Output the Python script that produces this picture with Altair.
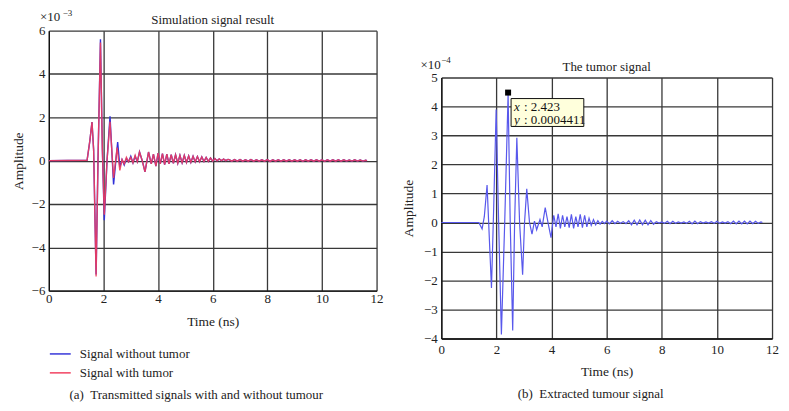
import altair as alt
import pandas as pd

FONT = "Liberation Serif"

# ---------------- Left panel: amplitudes in units of 1e-3 ----------------
series_names = ["Signal without tumor", "Signal with tumor"]

t_without = [0.00, 1.40, 1.50, 1.58, 1.64, 1.73, 1.80, 1.89, 1.96, 2.03, 2.13, 2.24, 2.37, 2.52, 2.60,
             2.68, 2.76, 2.84, 2.92, 3.00, 3.08, 3.16, 3.24, 3.32, 3.42, 3.52, 3.65, 3.75, 3.83, 3.92]
a_without = [0.00, 0.02, 0.90, 1.78, 0.50, -5.25, 0.00, 5.60, 0.50, -2.75, 0.00, 2.05, -1.10, 0.86, -0.30,
             0.05, -0.20, 0.10, -0.05, 0.20, -0.10, 0.20, -0.05, 0.40, 0.00, -0.52, 0.40, -0.15, 0.30, -0.25]

t_with = [0.00, 1.40, 1.50, 1.58, 1.64, 1.73, 1.80, 1.89, 1.96, 2.03, 2.13, 2.24, 2.37, 2.50, 2.60,
          2.68, 2.76, 2.84, 2.92, 3.00, 3.08, 3.16, 3.24, 3.32, 3.42, 3.52, 3.65, 3.75, 3.83, 3.92]
a_with = [0.00, 0.02, 0.90, 1.78, 0.50, -5.35, 0.00, 5.45, 0.50, -2.50, 0.00, 1.80, -0.80, 0.60, -0.45,
          0.05, -0.15, 0.15, -0.05, 0.15, -0.10, 0.25, -0.05, 0.40, 0.00, -0.52, 0.40, -0.15, 0.30, -0.25]

# common ringing tail of both transmitted signals
t_tail_left = [4.00, 4.08, 4.16, 4.24, 4.32, 4.40, 4.48, 4.56, 4.64, 4.72, 4.80, 4.88, 4.96, 5.04, 5.12,
               5.20, 5.28, 5.36, 5.44, 5.52, 5.60, 5.68, 5.76, 5.84, 5.92, 6.00, 6.08, 6.16, 6.24, 6.32,
               6.40, 6.48, 6.56,
               6.6, 6.7, 6.8, 6.9, 7.0, 7.1, 7.2, 7.3, 7.4, 7.5, 7.6, 7.7, 7.8, 7.9, 8.0, 8.1, 8.2, 8.3,
               8.4, 8.5, 8.6, 8.7, 8.8, 8.9, 9.0, 9.1, 9.2, 9.3, 9.4, 9.5, 9.6, 9.7, 9.8, 9.9, 10.0, 10.1,
               10.2, 10.3, 10.4, 10.5, 10.6, 10.7, 10.8, 10.9, 11.0, 11.1, 11.2, 11.3, 11.4, 11.5, 11.6, 11.65]
a_tail_left = [0.35, -0.15, 0.33, -0.18, 0.30, -0.15, 0.28, -0.12, 0.27, -0.12, 0.25, -0.10, 0.24, -0.08, 0.22,
               -0.08, 0.20, -0.06, 0.19, -0.05, 0.17, -0.04, 0.15, -0.03, 0.12, -0.02, 0.10, -0.01, 0.08, 0.00,
               0.07, 0.00, 0.06,
               0.05, -0.02, 0.05, -0.02, 0.05, -0.02, 0.04, -0.02, 0.05, -0.02, 0.04, -0.02, 0.04, -0.02,
               0.05, -0.03, 0.04, -0.02, 0.04, -0.02, 0.04, -0.02, 0.04, -0.02, 0.04, -0.02, 0.04, -0.03,
               0.04, -0.02, 0.04, -0.02, 0.04, -0.02, 0.04, -0.03, 0.04, -0.02, 0.04, -0.02, 0.04, -0.02,
               0.04, -0.02, 0.03, -0.02, 0.04, -0.02, 0.03, -0.02, 0.02, 0.00]

left_x_ticks = [0, 2, 4, 6, 8, 10, 12]
left_y_ticks = [-6, -4, -2, 0, 2, 4, 6]

# ---------------- Right panel: amplitudes in units of 1e-4 ----------------
t_tumor = [0.00, 1.36, 1.48, 1.56, 1.66, 1.74, 1.82, 1.90, 1.99, 2.08, 2.18, 2.30, 2.423, 2.50, 2.59,
           2.66, 2.74, 2.84, 2.95, 3.02, 3.10, 3.20, 3.29, 3.38, 3.46, 3.58, 3.66, 3.77, 3.88, 3.98,
           4.08, 4.16, 4.24, 4.32, 4.40, 4.48, 4.56, 4.64, 4.72, 4.80, 4.88, 4.96, 5.04, 5.12, 5.20,
           5.28, 5.36, 5.44, 5.52, 5.60, 5.68, 5.76, 5.84, 5.92,
           6.0, 6.1, 6.2, 6.3, 6.4, 6.5, 6.6, 6.7, 6.8, 6.9, 7.0, 7.1, 7.2, 7.3, 7.4, 7.5, 7.6, 7.7,
           7.8, 7.9, 8.0, 8.1, 8.2, 8.3, 8.4, 8.5, 8.6, 8.7, 8.8, 8.9, 9.0, 9.1, 9.2, 9.3, 9.4, 9.5,
           9.6, 9.7, 9.8, 9.9, 10.0, 10.1, 10.2, 10.3, 10.4, 10.5, 10.6, 10.7, 10.8, 10.9, 11.0, 11.1,
           11.2, 11.3, 11.4, 11.5, 11.6, 11.65]
a_tumor = [0.00, 0.00, -0.22, 0.20, 1.29, -0.50, -2.26, 0.50, 3.90, 0.00, -3.86, 0.00, 4.411, 0.00, -3.72,
           0.00, 2.92, 0.00, -1.80, 0.00, 1.16, 0.00, -0.40, 0.05, -0.25, 0.10, -0.15, 0.51, -0.05, -0.52,
           0.25, -0.15, 0.30, -0.20, 0.25, -0.15, 0.20, -0.18, 0.28, -0.20, 0.20, -0.15, 0.28, -0.18, 0.25,
           -0.15, 0.15, -0.10, 0.10, -0.08, 0.06, -0.06, 0.04, -0.04,
           0.05, -0.05, 0.06, -0.04, 0.04, -0.03, 0.03, -0.04, 0.06, -0.08, 0.08, -0.08, 0.09, -0.08,
           0.08, -0.08, 0.07, -0.06, 0.03, -0.02, 0.02, -0.03, 0.04, -0.04, 0.04, -0.03, 0.02, -0.02,
           0.02, -0.03, 0.04, -0.05, 0.05, -0.04, 0.03, -0.02, 0.02, -0.02, 0.03, -0.03, 0.04, -0.03,
           0.02, -0.02, 0.03, -0.04, 0.05, -0.05, 0.05, -0.05, 0.05, -0.05, 0.05, -0.04, 0.04, -0.03,
           0.02, 0.00]

right_x_ticks = [0, 2, 4, 6, 8, 10, 12]
right_y_ticks = [-4, -3, -2, -1, 0, 1, 2, 3, 4, 5]

tip_x = [2.423]
tip_y = [4.411]
tip_lines = ["2.423", "0.0004411"]

# ---------------- build tables ----------------
rows = []
for t, a in zip(t_without + t_tail_left, a_without + a_tail_left):
    rows.append({"t": t, "a": a, "s": series_names[0]})
for t, a in zip(t_with + t_tail_left, a_with + a_tail_left):
    rows.append({"t": t, "a": a, "s": series_names[1]})
left_df = pd.DataFrame(rows)
right_df = pd.DataFrame({"t": t_tumor, "a": a_tumor})
tip_df = pd.DataFrame({"t": tip_x, "a": tip_y})

GRID = "#383838"


def x_axis(values, label_pad, title_pad):
    return alt.Axis(values=values, title="Time (ns)", grid=True, ticks=False,
                    labelPadding=label_pad, titlePadding=title_pad, labelFlush=False)


def y_axis(values, title_pad):
    return alt.Axis(values=values, title="Amplitude", grid=True, ticks=False,
                    labelPadding=4, titlePadding=title_pad, labelFlush=False)


color_scale = alt.Scale(domain=series_names, range=["#3030d8", "#f23c5c"])
legend = alt.Legend(title=None, orient="none", legendX=0, legendY=313, symbolType="stroke",
                    symbolSize=440, symbolStrokeWidth=1.6, labelFont=FONT, labelFontSize=13,
                    labelOffset=8, rowPadding=0, labelColor="#222")

lx = alt.X("t:Q", scale=alt.Scale(domain=[0, 12], nice=False), axis=x_axis(left_x_ticks, 2, 9))
ly = alt.Y("a:Q", scale=alt.Scale(domain=[-6, 6], nice=False), axis=y_axis(left_y_ticks, 6))

left_base = alt.Chart(left_df)
blue_line = left_base.transform_filter(alt.datum.s == series_names[0]).mark_line(strokeWidth=1.4).encode(
    x=lx, y=ly, color=alt.Color("s:N", scale=color_scale, legend=legend, sort=series_names))
red_line = left_base.transform_filter(alt.datum.s == series_names[1]).mark_line(strokeWidth=1.4, opacity=0.9).encode(
    x=lx, y=ly, color=alt.Color("s:N", scale=color_scale, legend=legend, sort=series_names))

one = pd.DataFrame({"k": [0]})
left_exp = alt.Chart(one).mark_text(text="×10", font=FONT, fontSize=13, align="left", color="#222").encode(
    x=alt.value(-9), y=alt.value(-14))
left_sup = alt.Chart(one).mark_text(text="−3", font=FONT, fontSize=9, align="left", color="#222").encode(
    x=alt.value(14), y=alt.value(-18))
left_cap = alt.Chart(one).mark_text(text="(a)\u00a0\u00a0Transmitted signals with and without tumour",
                                     font=FONT, fontSize=13, align="center", color="#222").encode(
    x=alt.value(148), y=alt.value(366))

left = alt.layer(blue_line, red_line, left_exp, left_sup, left_cap).properties(
    width=329, height=261,
    title=alt.TitleParams("Simulation signal result", font=FONT, fontSize=13, fontWeight="normal",
                          frame="group", offset=-18, color="#222"))

# ---------------- right chart ----------------
rx = alt.X("t:Q", scale=alt.Scale(domain=[0, 12], nice=False), axis=x_axis(right_x_ticks, 5, 8))
ry = alt.Y("a:Q", scale=alt.Scale(domain=[-4, 5], nice=False), axis=y_axis(right_y_ticks, 8))

tumor_line = alt.Chart(right_df).mark_line(strokeWidth=1.2, color="#5858ec").encode(x=rx, y=ry)
tip_box = alt.Chart(tip_df).mark_rect(fill="#ffffdc", stroke="#111", strokeWidth=1,
                                      xOffset=3, x2Offset=76, yOffset=4, y2Offset=32).encode(
    x=rx, x2="t:Q", y=ry, y2="a:Q")
tip_pt = alt.Chart(tip_df).mark_point(shape="square", filled=True, size=36, color="#000", opacity=1,
                                      yOffset=-2).encode(x=rx, y=ry)
tip_x_lab = alt.Chart(tip_df).mark_text(text="x", font=FONT, fontSize=13, fontStyle="italic", align="left",
                                        dx=6, dy=12, color="#111").encode(x=rx, y=ry)
tip_x_val = alt.Chart(tip_df).mark_text(text=": " + tip_lines[0], font=FONT, fontSize=13, align="left",
                                        dx=16, dy=12, color="#111").encode(x=rx, y=ry)
tip_y_lab = alt.Chart(tip_df).mark_text(text="y", font=FONT, fontSize=13, fontStyle="italic", align="left",
                                        dx=6, dy=26, color="#111").encode(x=rx, y=ry)
tip_y_val = alt.Chart(tip_df).mark_text(text=": " + tip_lines[1], font=FONT, fontSize=13, align="left",
                                        dx=16, dy=26, color="#111").encode(x=rx, y=ry)

right_exp = alt.Chart(one).mark_text(text="×10", font=FONT, fontSize=13, align="left", color="#222").encode(
    x=alt.value(-21), y=alt.value(-13))
right_sup = alt.Chart(one).mark_text(text="−4", font=FONT, fontSize=9, align="left", color="#222").encode(
    x=alt.value(0), y=alt.value(-18))
right_cap = alt.Chart(one).mark_text(text="(b)\u00a0\u00a0Extracted tumour signal",
                                      font=FONT, fontSize=13, align="center", color="#222").encode(
    x=alt.value(150), y=alt.value(318))

right = alt.layer(tumor_line, tip_box, tip_pt, tip_x_lab, tip_x_val, tip_y_lab, tip_y_val,
                  right_exp, right_sup, right_cap).properties(
    width=332, height=262,
    title=alt.TitleParams("The tumor signal", font=FONT, fontSize=13, fontWeight="normal",
                          frame="group", offset=-18, color="#222"))

spacer = alt.Chart(one).mark_point(opacity=0).encode(
    x=alt.X("k:Q", axis=None), y=alt.Y("k:Q", axis=None)).properties(width=1, height=25)

right_col = alt.vconcat(spacer, right, spacing=0)

chart = alt.hconcat(left, right_col, spacing=18).properties(
    padding={"left": 3, "top": 0, "right": 2, "bottom": 0}
).configure_view(stroke=None).configure_axis(
    labelFont=FONT, labelFontSize=13, labelColor="#222", titleFont=FONT, titleFontSize=13.5,
    titleFontWeight="normal", titleColor="#222", gridColor=GRID, gridWidth=1.3, gridOpacity=1,
    domainColor="#111", domainWidth=1.3
)

chart.save("out.html", embed_options={"renderer": "svg", "actions": False})
